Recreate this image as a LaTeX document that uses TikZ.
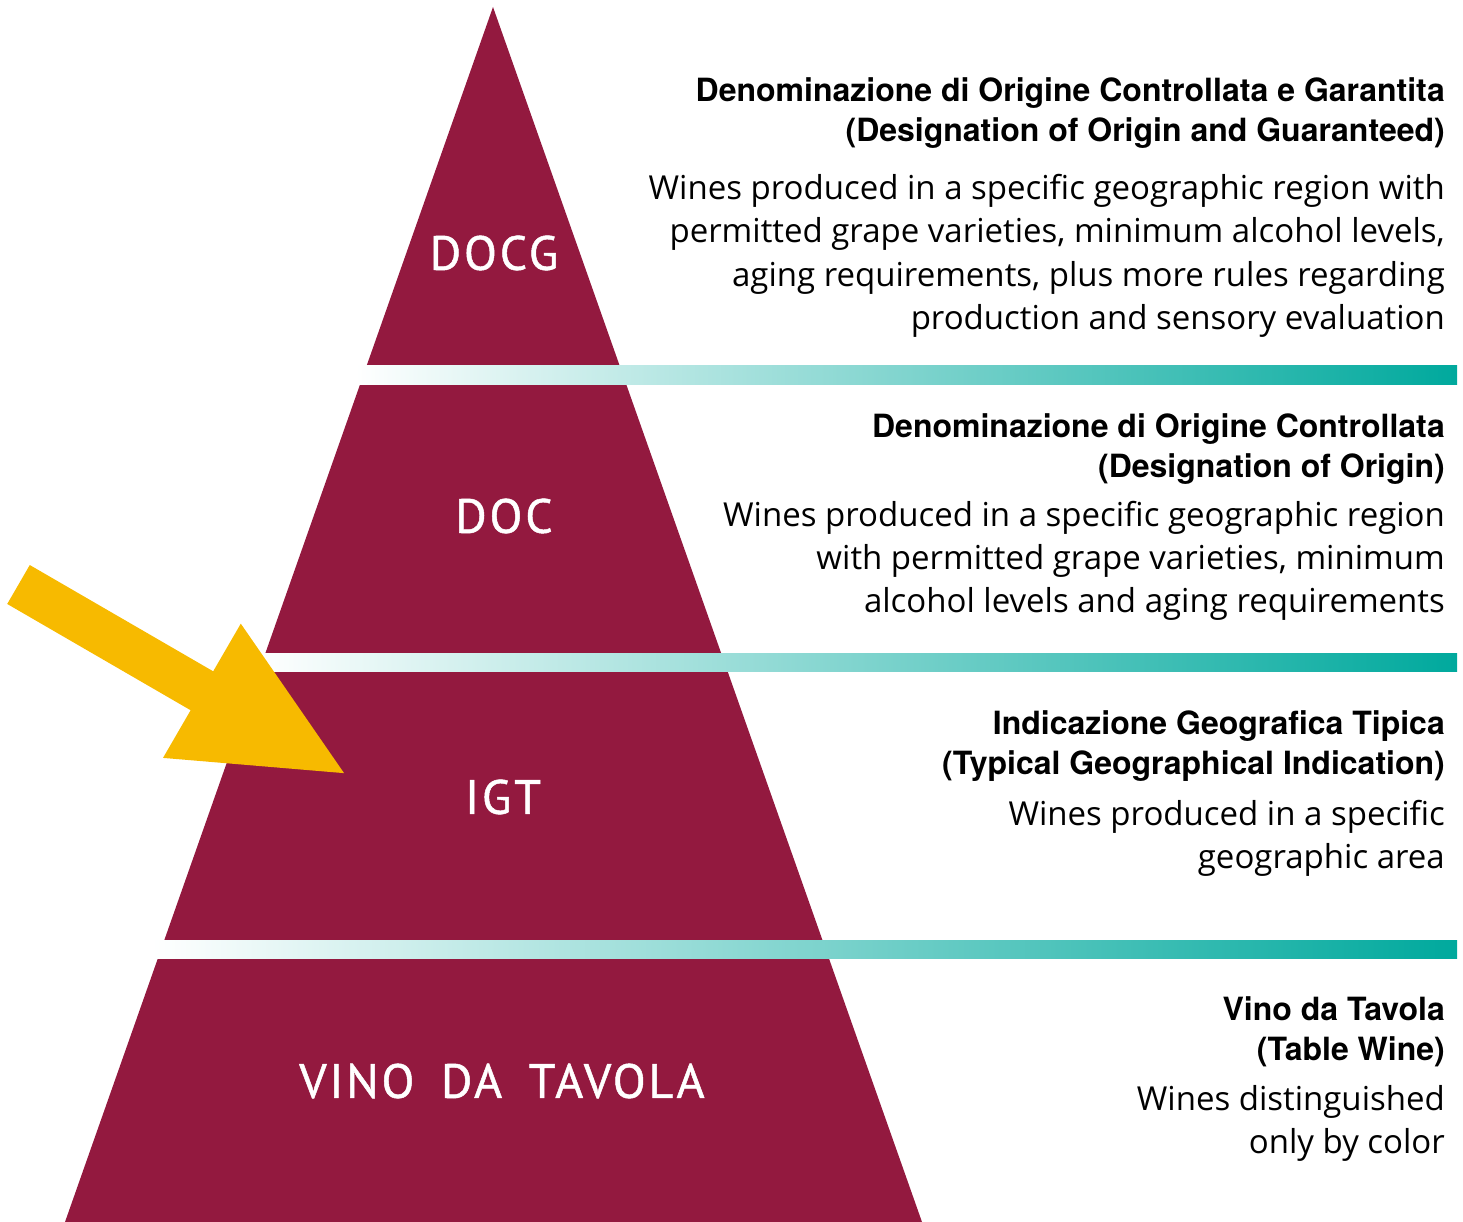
\documentclass[tikz,border=0pt]{standalone}
\usepackage{fontspec}
\setmainfont{Open Sans}
\newfontfamily\headfont{TeX Gyre Heros}
\newfontfamily\tierfont[LetterSpace=6, WordSpace=1.7, FakeBold=1]{PT Sans}
\usetikzlibrary{arrows.meta}

\definecolor{wine}{HTML}{93193F}
\definecolor{barteal}{HTML}{00A99D}
\definecolor{arrowyellow}{HTML}{F7BA00}

\begin{document}
\begin{tikzpicture}[x=1pt, y=-1pt, line join=miter,
  tierlabel/.style={text=white, inner sep=0, font=\tierfont\fontsize{48}{48}\selectfont},
  heading/.style={anchor=base east, align=right, inner sep=0,
    font=\headfont\bfseries\fontsize{32}{40}\selectfont},
  body/.style={anchor=base east, align=right, inner sep=0,
    font=\fontsize{33}{43}\selectfont},
  bar/.style={left color=white, right color=barteal},
  pointer/.style={draw=arrowyellow, line width=45pt,
    -{Triangle[length=170pt, width=141pt]}}]
\useasboundingbox (0,0) rectangle (1463,1222);
%========================
% pyramid
%========================
\coordinate (apex) at (493,7);
\coordinate (baseleft) at (65,1222);
\coordinate (baseright) at (922,1222);
\fill[wine] (apex) -- (baseright) -- (baseleft) -- cycle;
% separating bars
\shade[bar] (355,365) rectangle (1457,384);
\shade[bar] (258,653) rectangle (1457,671);
\shade[bar] (152,940) rectangle (1457,958);
% tier names
\node[tierlabel] (docg) at (494,253) {DOCG};
\node[tierlabel] (doc) at (504,516) {DOC};
\node[tierlabel] (igt) at (503,797) {IGT};
\node[tierlabel] (vdt) at (502,1081) {VINO DA TAVOLA};

%========================
% descriptions (anchored at last baseline)
%========================
\node[heading] (docgtitle) at (1445,142) {Denominazione di Origine Controllata e Garantita\\
  (Designation of Origin and Guaranteed)};
\node[body] (docgtext) at (1445,329) {Wines produced in a specific geographic region with\\
  permitted grape varieties, minimum alcohol levels,\\
  aging requirements, plus more rules regarding\\
  production and sensory evaluation};

\node[heading] (doctitle) at (1445,477) {Denominazione di Origine Controllata\\
  (Designation of Origin)};
\node[body] (doctext) at (1445,612) {Wines produced in a specific geographic region\\
  with permitted grape varieties, minimum\\
  alcohol levels and aging requirements};

\node[heading] (igttitle) at (1445,774) {Indicazione Geografica Tipica\\
  (Typical Geographical Indication)};
\node[body] (igttext) at (1445,868) {Wines produced in a specific\\
  geographic area};

\node[heading] (vdttitle) at (1445,1060) {Vino da Tavola\\
  (Table Wine)};
\node[body] (vdttext) at (1445,1153) {Wines distinguished\\
  only by color};

% yellow pointer
\coordinate (arrowtail) at (18.5,584.5);
\coordinate (arrowtip) at (349,776);
\draw[pointer] (arrowtail) -- (arrowtip);
\end{tikzpicture}
\end{document}
